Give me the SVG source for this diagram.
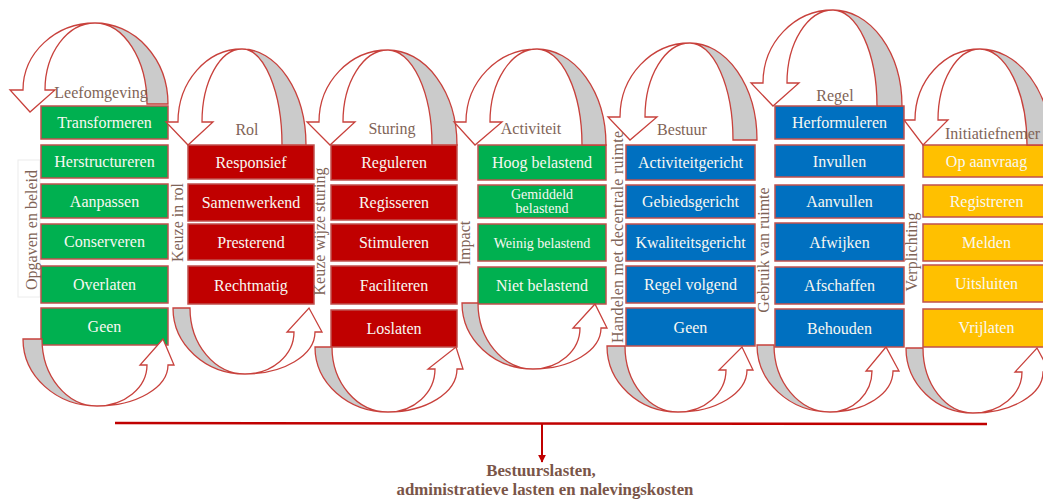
<svg xmlns="http://www.w3.org/2000/svg" width="1043" height="500" viewBox="0 0 1043 500">
<defs>
<style>
.box{stroke:#c0504d;stroke-width:1.5}
.g{fill:#00b050}.r{fill:#c00000}.b{fill:#0070c0}.y{fill:#ffc000}
.bt{font-family:"Liberation Serif",serif;font-size:16px;fill:#f8f8f2;text-anchor:middle}
.sm{font-size:14px}
.lb{font-family:"Liberation Serif",serif;font-size:16px;fill:#7f6457;text-anchor:middle}
.vl{font-family:"Liberation Serif",serif;font-size:16px;fill:#7f6457;text-anchor:middle}
.wa{fill:#ffffff;stroke:#c8413c;stroke-width:1.3;stroke-linejoin:miter}
.ga{fill:#cbcbcb;stroke:#c8413c;stroke-width:1.3}
.bot{font-family:"Liberation Serif",serif;font-size:16.8px;font-weight:bold;fill:#7a5548;text-anchor:middle}
</style>
<marker id="ah" viewBox="0 0 10 10" refX="9" refY="5" markerWidth="4" markerHeight="4" orient="auto">
<path d="M0,0 L10,5 L0,10 Z" fill="#c00000"/>
</marker>
</defs>
<rect width="1043" height="500" fill="#ffffff"/>
<rect x="18" y="160" width="22" height="137" fill="none" stroke="#ececec" stroke-width="1"/>

<g id="col1">
<rect class="box g" x="41" y="106" width="127" height="33"/><text class="bt" x="104.5" y="128">Transformeren</text>
<rect class="box g" x="41" y="145" width="127" height="33"/><text class="bt" x="104.5" y="167">Herstructureren</text>
<rect class="box g" x="41" y="184" width="127" height="34"/><text class="bt" x="104.5" y="206.5">Aanpassen</text>
<rect class="box g" x="41" y="224" width="127" height="35"/><text class="bt" x="104.5" y="247">Conserveren</text>
<rect class="box g" x="41" y="266" width="127" height="37"/><text class="bt" x="104.5" y="290">Overlaten</text>
<rect class="box g" x="41" y="308" width="127" height="37"/><text class="bt" x="104.5" y="332">Geen</text>
</g>
<g id="col2">
<rect class="box r" x="188" y="145" width="126" height="34"/><text class="bt" x="251" y="167.5">Responsief</text>
<rect class="box r" x="188" y="184" width="126" height="37"/><text class="bt" x="251" y="208">Samenwerkend</text>
<rect class="box r" x="188" y="224" width="126" height="36"/><text class="bt" x="251" y="247.5">Presterend</text>
<rect class="box r" x="188" y="266" width="126" height="38"/><text class="bt" x="251" y="290.5">Rechtmatig</text>
</g>
<g id="col3">
<rect class="box r" x="331" y="145" width="126" height="35"/><text class="bt" x="394" y="168">Reguleren</text>
<rect class="box r" x="331" y="185" width="126" height="35"/><text class="bt" x="394" y="208">Regisseren</text>
<rect class="box r" x="331" y="224" width="126" height="37"/><text class="bt" x="394" y="248">Stimuleren</text>
<rect class="box r" x="331" y="266" width="126" height="38"/><text class="bt" x="394" y="290.5">Faciliteren</text>
<rect class="box r" x="331" y="310" width="126" height="37"/><text class="bt" x="394" y="334">Loslaten</text>
</g>
<g id="col4">
<rect class="box g" x="478" y="145" width="128" height="35"/><text class="bt" x="542" y="168">Hoog belastend</text>
<rect class="box g" x="478" y="185" width="128" height="33"/><text class="bt sm" x="542" y="199">Gemiddeld</text><text class="bt sm" x="542" y="213">belastend</text>
<rect class="box g" x="478" y="224" width="128" height="37"/><text class="bt sm" x="542" y="247.5">Weinig belastend</text>
<rect class="box g" x="478" y="267" width="128" height="37"/><text class="bt" x="542" y="291">Niet belastend</text>
</g>
<g id="col5">
<rect class="box b" x="626" y="145" width="129" height="35"/><text class="bt" x="690.5" y="168">Activiteitgericht</text>
<rect class="box b" x="626" y="185" width="129" height="33"/><text class="bt" x="690.5" y="207">Gebiedsgericht</text>
<rect class="box b" x="626" y="224" width="129" height="37"/><text class="bt" x="690.5" y="248">Kwaliteitsgericht</text>
<rect class="box b" x="626" y="266" width="129" height="37"/><text class="bt" x="690.5" y="290">Regel volgend</text>
<rect class="box b" x="626" y="308" width="129" height="38"/><text class="bt" x="690.5" y="332.5">Geen</text>
</g>
<g id="col6">
<rect class="box b" x="775" y="106" width="129" height="33"/><text class="bt" x="839.5" y="128">Herformuleren</text>
<rect class="box b" x="775" y="145" width="129" height="32"/><text class="bt" x="839.5" y="166.5">Invullen</text>
<rect class="box b" x="775" y="185" width="129" height="33"/><text class="bt" x="839.5" y="207">Aanvullen</text>
<rect class="box b" x="775" y="223" width="129" height="38"/><text class="bt" x="839.5" y="247.5">Afwijken</text>
<rect class="box b" x="775" y="267" width="129" height="37"/><text class="bt" x="839.5" y="291">Afschaffen</text>
<rect class="box b" x="775" y="309" width="129" height="38"/><text class="bt" x="839.5" y="333.5">Behouden</text>
</g>
<g id="col7">
<rect class="box y" x="923" y="145" width="127" height="32"/><text class="bt" x="986.5" y="166.5">Op aanvraag</text>
<rect class="box y" x="923" y="185" width="127" height="32"/><text class="bt" x="986.5" y="206.5">Registreren</text>
<rect class="box y" x="923" y="224" width="127" height="37"/><text class="bt" x="986.5" y="248">Melden</text>
<rect class="box y" x="923" y="265" width="127" height="37"/><text class="bt" x="986.5" y="289">Uitsluiten</text>
<rect class="box y" x="923" y="309" width="127" height="38"/><text class="bt" x="986.5" y="333">Vrijlaten</text>
</g>

<g id="connectors">
<path class="ga" d="M95,23 A73,81 0 0 1 168,104 L147,104 A52,81 0 0 0 95,23 Z"/>
<path class="wa" d="M23,90 A72,67 0 0 1 95,23 A50,67 0 0 0 45,90 L55,90 L30,112 L10,90 Z"/>

<path class="ga" d="M242,49 A64,96 0 0 1 306,145 L282,145 A40,96 0 0 0 242,49 Z"/>
<path class="wa" d="M178,122 A64,73 0 0 1 242,49 A40,73 0 0 0 202,122 L213,122 L188,145 L166,122 Z"/>

<path class="ga" d="M388,50 A69,95 0 0 1 457,145 L432,145 A44,95 0 0 0 388,50 Z"/>
<path class="wa" d="M319,122 A69,72 0 0 1 388,50 A45,72 0 0 0 343,122 L355,122 L330,145 L307,122 Z"/>

<path class="ga" d="M537,49 A69,96 0 0 1 606,145 L582,145 A45,96 0 0 0 537,49 Z"/>
<path class="wa" d="M466,122 A71,73 0 0 1 537,49 A47,73 0 0 0 490,122 L502,122 L475,145 L454,122 Z"/>

<path class="ga" d="M690,43 A67,97 0 0 1 757,140 L733,140 A43,97 0 0 0 690,43 Z"/>
<path class="wa" d="M620,117 A70,74 0 0 1 690,43 A45,74 0 0 0 645,117 L657,117 L630,140 L608,117 Z"/>

<path class="ga" d="M833,10 A69,96 0 0 1 902,106 L877,106 A44,96 0 0 0 833,10 Z"/>
<path class="wa" d="M763,83 A70,73 0 0 1 833,10 A46,73 0 0 0 787,83 L799,83 L773,106 L751,83 Z"/>

<path class="ga" d="M980,49 A71,96 0 0 1 1051,145 L1027,145 A47,96 0 0 0 980,49 Z"/>
<path class="wa" d="M915,120 A65,71 0 0 1 980,49 A42,71 0 0 0 938,120 L948,120 L923,145 L904,120 Z"/>

<path class="ga" d="M23,339 L42,339 A55,67 0 0 0 97,406 A74,67 0 0 1 23,339 Z"/>
<path class="wa" d="M97,406 A71,41 0 0 0 168,365 L174,365 L163,339 L140,365 L147,365 A50,41 0 0 1 97,406 Z"/>

<path class="ga" d="M173,308 L190,308 A55,66 0 0 0 245,374 A72,66 0 0 1 173,308 Z"/>
<path class="wa" d="M245,374 A70,42 0 0 0 315,332 L322,332 L309,308 L287,332 L294,332 A49,42 0 0 1 245,374 Z"/>

<path class="ga" d="M315,347 L332,347 A56,65 0 0 0 388,412 A73,65 0 0 1 315,347 Z"/>
<path class="wa" d="M388,412 A69,43 0 0 0 457,369 L463,369 L456,347 L428,369 L435,369 A47,43 0 0 1 388,412 Z"/>

<path class="ga" d="M462,303 L478,303 A55,66 0 0 0 533,369 A71,66 0 0 1 462,303 Z"/>
<path class="wa" d="M533,369 A68,41 0 0 0 601,328 L607,328 L595,304 L573,328 L580,328 A47,41 0 0 1 533,369 Z"/>

<path class="ga" d="M607,346 L625,346 A53,66 0 0 0 678,412 A71,66 0 0 1 607,346 Z"/>
<path class="wa" d="M678,412 A69,42 0 0 0 747,370 L753,370 L742,347 L719,370 L726,370 A48,42 0 0 1 678,412 Z"/>

<path class="ga" d="M757,345 L774,345 A56,67 0 0 0 830,412 A73,67 0 0 1 757,345 Z"/>
<path class="wa" d="M830,412 A63,41 0 0 0 893,371 L899,371 L886,347 L866,371 L872,371 A42,41 0 0 1 830,412 Z"/>

<path class="ga" d="M906,348 L923,348 A50,65 0 0 0 973,413 A67,65 0 0 1 906,348 Z"/>
<path class="wa" d="M973,413 A70,41 0 0 0 1043,372 L1050,372 L1037,348 L1015,372 L1022,372 A49,41 0 0 1 973,413 Z"/>

<line x1="115" y1="423" x2="987" y2="424" stroke="#c00000" stroke-width="2.5"/>
<line x1="542" y1="424" x2="542" y2="462" stroke="#c00000" stroke-width="2" marker-end="url(#ah)"/>
</g>

<g id="labels">
<text class="lb" x="101" y="98">Leefomgeving</text>
<text class="lb" x="247" y="135">Rol</text>
<text class="lb" x="392" y="134">Sturing</text>
<text class="lb" x="531" y="134">Activiteit</text>
<text class="lb" x="682" y="135">Bestuur</text>
<text class="lb" x="835" y="101">Regel</text>
<text class="lb" x="945" y="139" style="text-anchor:start">Initiatiefnemer</text>
<text class="vl" transform="translate(37,230) rotate(-90)">Opgaven en beleid</text>
<text class="vl" transform="translate(183,222.5) rotate(-90)">Keuze in rol</text>
<text class="vl" transform="translate(325,231.5) rotate(-90)">Keuze wijze sturing</text>
<text class="vl" transform="translate(470,243) rotate(-90)">Impact</text>
<text class="vl" transform="translate(623,237) rotate(-90)" textLength="212" lengthAdjust="spacing">Handelen met decentrale ruimte</text>
<text class="vl" transform="translate(769,250) rotate(-90)">Gebruik van ruimte</text>
<text class="vl" transform="translate(917,252) rotate(-90)">Verplichting</text>
</g>
<g id="result">
<text class="bot" x="541" y="476">Bestuurslasten,</text>
<text class="bot" x="545" y="495">administratieve lasten en nalevingskosten</text>
</g>
</svg>
